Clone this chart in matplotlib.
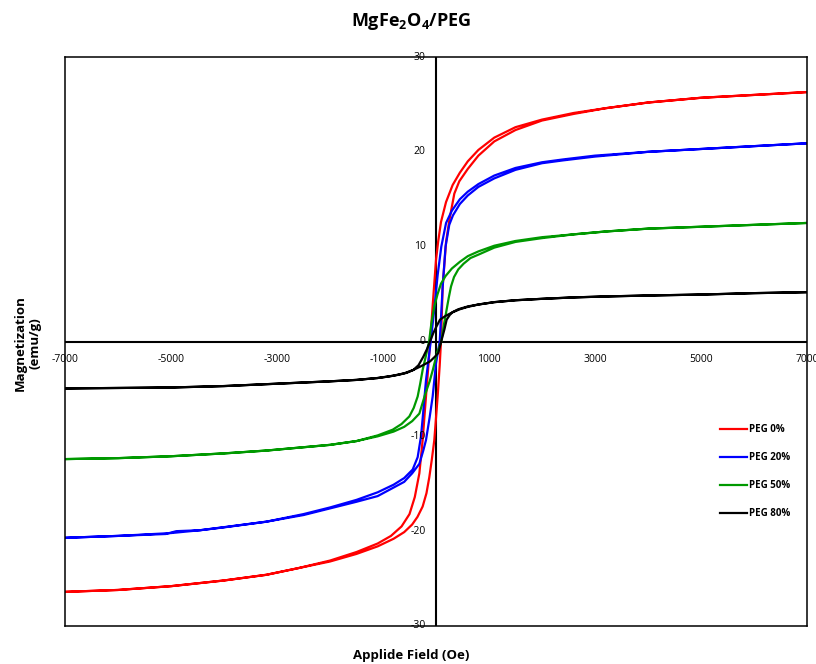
import matplotlib.pyplot as plt

plt.rcParams['font.family'] = ['Open Sans', 'DejaVu Sans']
plt.rcParams['mathtext.fontset'] = 'custom'
plt.rcParams['mathtext.rm'] = 'Open Sans:bold'
plt.rcParams['mathtext.it'] = 'Open Sans:bold'

# --- data (field in Oe, magnetization in emu/g) ---
# "down" = field swept 7000 -> -7000, "up" = field swept -7000 -> 7000
red_h_down = [7000, 6000, 5000, 4000, 3200, 2600, 2000, 1500, 1100, 800, 600, 450, 314, 189, 94, 40, 0,
              -60, -110, -150, -189, -252, -314, -400, -500, -650, -850, -1100, -1500, -2000, -2600,
              -3200, -4000, -5000, -6000, -7000]
red_m_down = [26.3, 26.0, 25.7, 25.2, 24.6, 24.1, 23.4, 22.6, 21.5, 20.2, 19.0, 17.8, 16.5, 14.7, 12.6, 10.5, 8.6,
              4.0, 0.0, -3.0, -5.8, -10.4, -13.9, -16.4, -18.2, -19.5, -20.5, -21.3, -22.2, -23.1, -23.9,
              -24.6, -25.2, -25.8, -26.2, -26.4]
red_h_up = [-7000, -6000, -5000, -4000, -3200, -2600, -2000, -1500, -1100, -800, -600, -450, -350, -252,
            -180, -126, -80, -32, 31, 70, 94, 126, 190, 252, 346, 440, 600, 800, 1100, 1500, 2000, 2600,
            3200, 4000, 5000, 6000, 7000]
red_m_up = [-26.4, -26.2, -25.8, -25.2, -24.6, -23.9, -23.2, -22.4, -21.6, -20.8, -20.1, -19.3, -18.5, -17.4,
            -16.0, -14.3, -12.5, -10.4, -5.8, -2.5, 0.0, 5.8, 10.5, 12.8, 15.6, 16.9, 18.2, 19.6, 21.1, 22.3,
            23.3, 24.0, 24.6, 25.2, 25.7, 26.0, 26.3]

blue_h_down = [7000, 6000, 5000, 4000, 3000, 2400, 2000, 1500, 1100, 800, 600, 450, 300, 190, 100, 31,
               -40, -100, -189, -250, -283, -346, -440, -600, -800, -1100, -1500, -2000, -2500, -3200,
               -4000, -4450, -4900, -5100, -6000, -7000]
blue_m_down = [20.9, 20.6, 20.3, 20.0, 19.6, 19.2, 18.9, 18.3, 17.5, 16.6, 15.8, 15.0, 13.8, 12.5, 10.0, 7.0,
               3.0, 0.0, -4.1, -8.0, -10.0, -12.2, -13.5, -14.4, -15.1, -15.9, -16.7, -17.5, -18.2, -19.0,
               -19.6, -19.9, -20.0, -20.3, -20.5, -20.7]
blue_h_up = [-7000, -6000, -5000, -4450, -3200, -2500, -2000, -1500, -1100, -800, -600, -450, -314, -240,
             -189, -120, -63, 0, 70, 126, 180, 250, 320, 450, 600, 800, 1100, 1500, 2000, 2400, 3000,
             4000, 5000, 6000, 7000]
blue_m_up = [-20.7, -20.5, -20.2, -19.9, -19.0, -18.3, -17.6, -16.9, -16.3, -15.4, -14.8, -13.9, -12.9, -11.5,
             -10.4, -8.0, -5.8, -2.3, 0.0, 5.8, 10.0, 12.3, 13.3, 14.5, 15.4, 16.3, 17.2, 18.1, 18.8, 19.1, 19.5,
             20.0, 20.3, 20.6, 20.9]

green_h_down = [7000, 6000, 5000, 4000, 3200, 2600, 2000, 1500, 1100, 800, 600, 450, 300, 180, 94, 30,
                -32, -90, -130, -190, -252, -300, -346, -420, -503, -650, -817, -1100, -1500, -2000,
                -2600, -3200, -4000, -5000, -6000, -7000]
green_m_down = [12.5, 12.3, 12.1, 11.9, 11.6, 11.3, 11.0, 10.6, 10.1, 9.5, 9.0, 8.4, 7.7, 6.9, 6.1, 5.0,
                3.7, 1.8, 0.0, -1.5, -3.0, -4.5, -5.8, -7.0, -7.9, -8.7, -9.3, -9.9, -10.5, -10.9,
                -11.2, -11.5, -11.8, -12.1, -12.3, -12.4]
green_h_up = [-7000, -6000, -5000, -4000, -3200, -2600, -2000, -1500, -1100, -800, -600, -450, -314, -200,
              -120, -60, 20, 100, 150, 189, 240, 283, 340, 420, 520, 650, 817, 1100, 1500, 2000, 2600,
              3200, 4000, 5000, 6000, 7000]
green_m_up = [-12.4, -12.3, -12.1, -11.8, -11.5, -11.2, -10.9, -10.5, -10.0, -9.5, -9.0, -8.4, -7.6, -5.5,
              -4.2, -3.0, -1.2, 0.0, 1.8, 3.0, 4.6, 5.8, 6.8, 7.6, 8.2, 8.8, 9.2, 9.9, 10.5, 10.9, 11.3,
              11.6, 11.9, 12.1, 12.3, 12.5]

black_h_down = [7000, 6000, 5000, 4000, 3200, 2600, 2000, 1500, 1100, 800, 600, 450, 300, 180, 75, 10,
                -50, -113, -170, -239, -330, -428, -550, -700, -900, -1100, -1500, -2000, -2600, -3200,
                -4000, -5000, -6000, -7000]
black_m_down = [5.2, 5.1, 4.95, 4.85, 4.75, 4.65, 4.5, 4.35, 4.15, 3.9, 3.65, 3.4, 3.05, 2.7, 2.3, 1.6,
                0.9, 0.0, -0.8, -1.6, -2.5, -3.0, -3.3, -3.5, -3.7, -3.85, -4.05, -4.2, -4.35, -4.5,
                -4.7, -4.85, -4.9, -4.95]
black_h_up = [-7000, -6000, -5000, -4000, -3200, -2600, -2000, -1500, -1100, -800, -600, -428, -280, -113,
              -20, 44, 107, 160, 201, 260, 314, 420, 600, 800, 1100, 1500, 2000, 2600, 3200, 4000, 5000,
              6000, 7000]
black_m_up = [-4.95, -4.9, -4.85, -4.7, -4.5, -4.35, -4.2, -4.05, -3.85, -3.6, -3.35, -3.0, -2.6, -2.1,
              -1.6, -1.2, 0.2, 1.3, 2.3, 2.8, 3.1, 3.4, 3.7, 3.9, 4.15, 4.35, 4.5, 4.65, 4.75, 4.85, 4.95,
              5.1, 5.2]

x_ticks = [-7000, -5000, -3000, -1000, 1000, 3000, 5000, 7000]
y_ticks = [30, 20, 10, 0, -10, -20, -30]

fig = plt.figure(figsize=(8.16, 6.64), dpi=100)
ax = fig.add_axes([65/816, 38/664, 742/816, 569/664])

series = [
    (red_h_down, red_m_down, red_h_up, red_m_up, '#ff0000', 'PEG 0%'),
    (blue_h_down, blue_m_down, blue_h_up, blue_m_up, '#0000ff', 'PEG 20%'),
    (green_h_down, green_m_down, green_h_up, green_m_up, '#009900', 'PEG 50%'),
    (black_h_down, black_m_down, black_h_up, black_m_up, '#000000', 'PEG 80%'),
]
for hd, md, hu, mu, col, lab in series:
    ax.plot(hd + hu, md + mu, color=col, lw=1.6, label=lab, solid_joinstyle='round')

ax.axhline(0, color='black', lw=1.5, zorder=1)
ax.axvline(0, color='black', lw=1.5, zorder=1)
ax.set_xlim(-7000, 7000)
ax.set_ylim(-30, 30)
ax.set_xticks([])
ax.set_yticks([])
for s in ax.spines.values():
    s.set_linewidth(1.1)

for v in x_ticks:
    ax.text(v, -1.9, str(v), ha='center', va='center', fontsize=7.5, clip_on=False)
for v in y_ticks:
    ax.text(-200, v, str(v), ha='right', va='center', fontsize=7.5, clip_on=False)

leg = ax.legend(loc='upper left', bbox_to_anchor=(720/816, 1 - 424/664),
                bbox_transform=fig.transFigure, frameon=False,
                handlelength=2.8, handletextpad=0.2, labelspacing=1.75, borderpad=0,
                borderaxespad=0, prop={'size': 7, 'weight': 'bold'})

fig.text(411/816, 1 - 22/664, r'MgFe$_2$O$_4$/PEG', ha='center', va='center',
         fontsize=13, fontweight='bold')
fig.text(411/816, 1 - 655/664, 'Applide Field (Oe)', ha='center', va='center',
         fontsize=9.5, fontweight='bold')
fig.text(28/816, 1 - 343/664, 'Magnetization\n(emu/g)', ha='center', va='center',
         rotation=90, fontsize=9.5, fontweight='bold', multialignment='center')

fig.savefig('out.png', dpi=100)
